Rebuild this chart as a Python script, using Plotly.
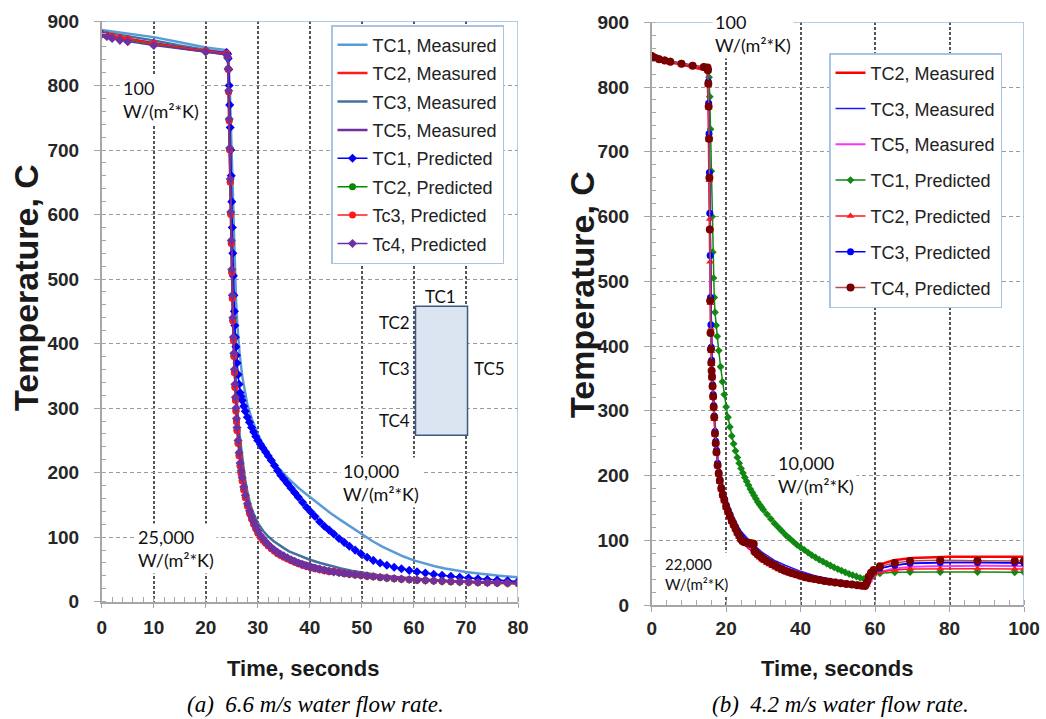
import plotly.graph_objects as go

W, H = 1046, 719

# ---------------- Panel (a): 6.6 m/s water flow rate ----------------
x_ticks_a = [0, 10, 20, 30, 40, 50, 60, 70, 80]
y_ticks = [0, 100, 200, 300, 400, 500, 600, 700, 800, 900]
x_ticks_b = [0, 20, 40, 60, 80, 100]

t_a_meas1 = [0, 5, 10, 15, 20, 24, 24.3, 24.6, 24.9, 25.2,
             25.5, 25.8, 26.1, 26.5, 27, 27.5, 28, 29, 30, 31,
             32, 33, 34, 35, 36, 38, 40, 42, 44, 46,
             48, 50, 52, 54, 56, 58, 60, 62, 64, 66,
             68, 70, 72, 74, 76, 78, 80]
TC1_meas_a = [886, 881, 875, 867, 859, 855, 845, 800, 720, 620,
              530, 470, 425, 385, 350, 325, 305, 280, 260, 244,
              230, 218, 207, 198, 190, 175, 162, 149, 137, 126,
              115, 104, 94, 85, 77, 70, 64, 59, 55, 51.5,
              48.5, 46, 44, 42, 40.5, 39.2, 38]

t_a_meas = [0, 5, 10, 15, 20, 24, 24.3, 24.6, 24.9, 25.2,
            25.5, 25.8, 26.1, 26.5, 27, 27.5, 28, 28.5, 29, 30,
            31, 32, 33, 34, 35, 36, 38, 40, 42, 44,
            46, 48, 50, 53, 56, 60, 64, 68, 72, 76,
            80]
TC2_meas_a = [879, 873, 866, 859, 853, 849, 835, 700, 560, 440,
              365, 315, 275, 238, 200, 172, 150, 134, 122, 105,
              94, 86, 80, 75, 71, 67, 61, 56, 52, 48.5,
              45.5, 43, 41, 38.5, 36.5, 34, 32.2, 30.8, 29.7, 28.9,
              28.3]
TC3_meas_a = [883, 877, 870, 862, 855, 851, 838, 720, 580, 460,
              385, 335, 295, 258, 220, 192, 170, 152, 140, 122,
              110, 101, 94, 88, 83, 78, 71, 65, 60, 55.5,
              51.5, 48, 45, 41.5, 38.5, 35.5, 33.3, 31.7, 30.5, 29.6,
              29]
TC5_meas_a = [878, 872, 865, 858, 852, 848, 834, 705, 565, 445,
              370, 320, 280, 243, 205, 177, 155, 138, 126, 108,
              97, 89, 82, 77, 73, 69, 63, 58, 53.5, 50,
              47, 44, 42, 39.5, 37.5, 35, 33, 31.5, 30.3, 29.4,
              28.8]

t_a_pred = [0, 1, 2, 3.5, 5, 10, 20, 24, 24.2, 24.3,
            24.4, 24.5, 24.6, 24.7, 24.8, 24.9, 25.0, 25.1, 25.2, 25.3,
            25.4, 25.5, 25.6, 25.7, 25.8, 25.9, 26.0, 26.2, 26.4, 26.6,
            26.8, 27.0, 27.3, 27.6, 28.0, 28.4, 28.8, 29.2, 29.6, 30.0,
            30.5, 31.0, 31.5, 32.0, 32.6, 33.2, 33.8, 34.4, 35.0, 35.7,
            36.4, 37.1, 37.8, 38.6, 39.4, 40.2, 41.0, 41.9, 42.8, 43.7,
            44.6, 45.6, 46.6, 47.6, 48.7, 49.8, 51.0, 52.2, 53.5, 54.8,
            56.2, 57.6, 59.1, 60.6, 62.2, 63.8, 65.4, 67.1, 68.8, 70.5,
            72.3, 74.1, 76.0, 78.0, 80.0]
TC1_pred_a = [880, 877, 875, 873, 871, 865, 854, 851, 849, 842,
              825, 800, 770, 735, 700, 660, 620, 580, 540, 505,
              475, 450, 428, 410, 395, 382, 370, 352, 337, 324,
              318, 312, 303, 295, 286, 278, 270, 263, 256, 250,
              244, 238, 232, 226, 219, 211, 203, 196, 190, 183,
              176, 169, 162, 154, 146, 139, 132, 124, 117, 111,
              105, 98, 92, 86, 80, 74.5, 69, 64, 60, 56.5,
              53.5, 51, 48.5, 46.5, 44.5, 42.5, 41, 39.5, 38, 36.8,
              35.5, 34.5, 33.5, 32.5, 31.5]
TC2_pred_a = [880, 877, 875, 873, 871, 864, 853, 849, 845, 826,
              791, 746, 701, 651, 601, 556, 511, 471, 436, 406,
              381, 356, 333, 313, 296, 280, 266, 246, 227, 211,
              199, 188, 174, 162, 149, 138, 129, 121, 114, 107,
              101, 96, 91.5, 87.5, 83, 79, 75.5, 72.5, 70, 67,
              64.5, 62, 59.5, 57, 55, 53, 51.5, 50, 48.5, 47,
              46.5, 45, 43.5, 42.5, 41.5, 40.5, 39.5, 38.5, 37.5, 36.5,
              35.6, 34.8, 34.1, 33.4, 32.8, 32.2, 31.6, 31.1, 30.6, 30.1,
              29.7, 29.3, 29, 28.7, 28.4]
TC3_pred_a = [880, 878, 876, 874, 872, 865, 854, 850, 845, 825,
              790, 745, 700, 650, 600, 555, 510, 470, 435, 405,
              380, 355, 332, 312, 295, 279, 265, 245, 226, 210,
              198, 187, 173, 161, 148, 137, 128, 120, 113, 106,
              100, 95, 90.5, 86.5, 82, 78, 74.5, 71.5, 69, 66,
              63.5, 61, 59, 56.5, 54.5, 52.5, 51, 49.5, 48, 46.5,
              47, 45.5, 44, 43, 42, 41, 40, 39, 38, 37,
              36, 35.2, 34.5, 33.8, 33.1, 32.5, 31.9, 31.3, 30.8, 30.3,
              29.9, 29.5, 29.1, 28.8, 28.5]
TC4_pred_a = [879, 876, 873, 870, 868, 862, 852, 848, 844, 826,
              792, 748, 703, 655, 604, 560, 515, 475, 440, 410,
              385, 360, 337, 317, 300, 284, 270, 250, 231, 215,
              203, 192, 178, 165, 152, 141, 132, 124, 117, 110,
              103, 98, 93, 88.5, 84, 80, 76.5, 73.5, 71, 68,
              65, 62.5, 60, 57.5, 55.5, 53.5, 52, 50.5, 49, 47.5,
              46, 45, 44, 43, 42, 41, 40, 39, 38, 37,
              36, 35.2, 34.5, 33.8, 33.1, 32.5, 31.9, 31.3, 30.8, 30.3,
              29.9, 29.5, 29.1, 28.8, 28.5]

# ---------------- Panel (b): 4.2 m/s water flow rate ----------------
t_b_meas = [0, 5, 10, 14.5, 15, 15.3, 15.6, 15.9, 16.3, 16.8,
            17.5, 18.5, 20, 22, 24, 26, 28, 30, 33, 36,
            40, 44, 48, 52, 55, 57, 58, 59, 60, 62,
            65, 70, 75, 80, 90, 100]
TC2_meas_b = [845, 838, 832, 826, 824, 760, 600, 430, 350, 290,
              235, 190, 150, 118, 100, 88, 80, 72, 63, 56,
              48, 42, 37.5, 33.5, 31, 29.5, 31, 45, 56, 64,
              69, 72.5, 74, 74.5, 74.5, 74.5]
TC3_meas_b = [847, 840, 835, 830, 828, 770, 610, 440, 355, 295,
              240, 195, 157, 130, 114, 101, 90, 80, 69, 61,
              52, 45, 40, 35.5, 32.5, 31, 30.5, 40, 50, 57,
              61.5, 64, 65, 65.5, 65.5, 65]
TC5_meas_b = [846, 839, 834, 829, 827, 765, 605, 435, 352, 292,
              237, 192, 152, 120, 102, 90, 82, 74, 65, 57.5,
              49.5, 43, 38, 34, 31.5, 30, 30, 37, 46, 52,
              56.5, 59, 60, 60.5, 60.5, 60]

t_b_pred1 = [0, 1, 2, 3.5, 5, 8, 11, 14, 15, 15.2,
             15.4, 15.6, 15.8, 16.0, 16.2, 16.4, 16.6, 16.8, 17.0, 17.3,
             17.6, 18.0, 18.5, 19.0, 19.5, 20.0, 20.5, 21.0, 21.5, 22.0,
             22.5, 23.0, 23.5, 24.0, 24.5, 25.0, 25.5, 26.0, 26.5, 27.0,
             27.5, 28.0, 28.5, 29.0, 29.5, 30.0, 31.0, 32.0, 33.0, 34.0,
             35, 36, 37, 38, 39, 40, 41, 42, 43, 44,
             45, 46, 47, 48, 49, 50, 51, 52, 53, 54,
             55, 56, 57, 57.5, 58, 58.8, 59.6, 61.3, 65.3, 69.4,
             77.5, 87.5, 97.5, 100]
TC1_pred_b = [849, 846, 844, 842, 840, 836, 833, 831, 830, 828,
              815, 785, 735, 670, 600, 545, 505, 475, 452, 432,
              415, 393, 368, 345, 325, 306, 290, 275, 261, 249,
              238, 228, 219, 211, 204, 197, 191, 185, 179, 174,
              169, 164, 159, 155, 151, 147, 140, 133, 126, 120,
              114, 108, 103, 98, 93, 89, 85, 81, 77, 73.5,
              70, 67, 64, 61, 58, 55.5, 53, 50.5, 48, 46,
              44, 42, 40.5, 41, 43, 45, 47, 49, 50.5, 51,
              51, 51, 50.5, 50.5]

t_b_pred = [0, 1, 2, 3.5, 5, 8, 11, 14, 15, 15.1,
            15.2, 15.3, 15.4, 15.5, 15.6, 15.7, 15.8, 15.9, 16.0, 16.1,
            16.2, 16.35, 16.5, 16.65, 16.8, 17.0, 17.2, 17.4, 17.7, 18.0,
            18.3, 18.7, 19.1, 19.5, 20.0, 20.5, 21.0, 21.5, 22.0, 22.5,
            23.0, 23.5, 24.0, 24.5, 25.0, 25.5, 26.0, 26.5, 27.0, 27.4,
            27.6, 28.0, 28.5, 29.0, 29.6, 30.2, 30.9, 31.6, 32.4, 33.2,
            34.0, 34.9, 35.8, 36.8, 37.8, 38.9, 40.0, 41.2, 42.4, 43.7,
            45.0, 46.4, 47.8, 49.3, 50.8, 52.3, 53.8, 55.2, 56.4, 57.3,
            57.8, 58.3, 58.9, 59.6, 61.3, 65.3, 69.4, 77.5, 87.5, 97.5,
            100]
TC2_pred_b = [847, 844, 842, 840, 838, 835, 832, 830, 829, 825,
              803, 768, 718, 656, 596, 530, 466, 427, 392, 372,
              350, 336, 320, 303, 287, 263, 248, 234, 214, 201,
              190, 178, 168, 160, 150, 142, 135, 128, 122, 116,
              110, 105, 100, 97, 96, 95.5, 95, 94.5, 94, 93.5,
              81, 79, 76, 73, 70, 67.5, 65, 62.5, 60, 57.5,
              55, 52.5, 50.5, 48.5, 46.5, 44.5, 42.5, 41, 39.5, 38,
              36.5, 35.2, 34, 32.9, 31.9, 31, 30.1, 29.3, 28.7, 28.5,
              31, 38, 43, 47, 51, 54, 55.5, 56, 56, 55.5,
              55.5]
TC3_pred_b = [848, 845, 843, 841, 839, 836, 833, 831, 830, 827,
              808, 775, 728, 668, 605, 540, 475, 433, 398, 378,
              355, 340, 325, 308, 292, 268, 253, 239, 219, 205,
              194, 182, 172, 164, 155, 147, 140, 133, 127, 121,
              115, 110, 105, 101, 98, 96, 95, 94, 93, 92,
              84, 81.5, 78.5, 76, 73.5, 71, 68.5, 66, 63.5, 61,
              58.5, 56, 53.5, 51.5, 49.5, 47.5, 45.5, 43.5, 42, 40.5,
              39, 37.5, 36.2, 35, 33.9, 32.9, 31.9, 31, 30.3, 30,
              34, 42, 48, 52, 57, 61.5, 64.5, 65.5, 65.5, 65,
              65]
TC4_pred_b = [848, 845, 843, 841, 839, 836, 833, 831, 830, 826,
              805, 770, 720, 660, 580, 470, 420, 395, 374, 362,
              352, 338, 322, 306, 290, 265, 250, 236, 216, 203,
              192, 180, 170, 162, 152, 144, 137, 130, 124, 118,
              112, 107, 101, 98, 97, 96.5, 96, 95.5, 95, 94.5,
              83, 81, 78, 76, 73, 70.5, 68, 65.5, 63, 60.5,
              58, 55.5, 53, 51, 49, 47, 45, 43, 41.5, 40,
              38.5, 37, 35.8, 34.6, 33.5, 32.5, 31.5, 30.5, 29.8, 29.5,
              35, 44, 50, 54, 60, 65, 68, 69, 68.5, 68,
              68]

# ---------------- Figure ----------------
SANS = "Liberation Sans, Arial, sans-serif"
CAL = "Lato, Carlito, Calibri, sans-serif"

fig = go.Figure()


def add(x, y, name, leg, xa, ya, color, width, symbol=None, msize=6, mcolor=None):
    kw = {}
    if symbol is None:
        mode = "lines"
    else:
        mode = "lines+markers"
        kw["marker"] = dict(symbol=symbol, size=msize, color=mcolor or color,
                            line=dict(width=0))
    fig.add_trace(go.Scatter(x=x, y=y, name=name, mode=mode, xaxis=xa, yaxis=ya,
                             legend=leg, legendgroup=leg + name,
                             line=dict(color=color, width=width), **kw))


# panel (a)
add(t_a_meas1, TC1_meas_a, "TC1, Measured", "legend", "x", "y", "#5b9bd5", 2.5)
add(t_a_meas, TC2_meas_a, "TC2, Measured", "legend", "x", "y", "#ff1a1a", 2.5)
add(t_a_meas, TC3_meas_a, "TC3, Measured", "legend", "x", "y", "#44709e", 2.5)
add(t_a_meas, TC5_meas_a, "TC5, Measured", "legend", "x", "y", "#7030a0", 2.5)
add(t_a_pred, TC1_pred_a, "TC1, Predicted", "legend", "x", "y", "#0000ff", 1.5, "diamond", 7)
add(t_a_pred, TC2_pred_a, "TC2, Predicted", "legend", "x", "y", "#008a00", 1.5, "circle", 7)
add(t_a_pred, TC3_pred_a, "Tc3, Predicted", "legend", "x", "y", "#ff1a1a", 1.5, "circle", 7)
add(t_a_pred, TC4_pred_a, "Tc4, Predicted", "legend", "x", "y", "#7030a0", 1.5, "diamond", 7)

# panel (b)
add(t_b_meas, TC2_meas_b, "TC2, Measured", "legend2", "x2", "y2", "#ff0000", 2.5)
add(t_b_meas, TC3_meas_b, "TC3, Measured", "legend2", "x2", "y2", "#1a1aff", 1.5)
add(t_b_meas, TC5_meas_b, "TC5, Measured", "legend2", "x2", "y2", "#ff33ff", 2)
add(t_b_pred1, TC1_pred_b, "TC1, Predicted", "legend2", "x2", "y2", "#118811", 1.5, "diamond", 6)
add(t_b_pred, TC2_pred_b, "TC2, Predicted", "legend2", "x2", "y2", "#ff1a1a", 1.5, "triangle-up", 7)
add(t_b_pred, TC3_pred_b, "TC3, Predicted", "legend2", "x2", "y2", "#0000ff", 1.5, "circle", 7)
add(t_b_pred, TC4_pred_b, "TC4, Predicted", "legend2", "x2", "y2", "#b0504f", 1.5, "circle", 8, "#7a0000")

tickfont = dict(family=SANS, size=19, color="#262626", weight="bold")
AXC = "#a6a6a6"


def xaxis(domain, rng, ticks, minor_dt, anchor, standoff):
    return dict(domain=domain, range=rng, tickvals=ticks, anchor=anchor,
                automargin=False,
                showline=True, linecolor=AXC, linewidth=1.5,
                ticks="outside", ticklen=5, tickcolor=AXC, tickwidth=1.2,
                showgrid=True, gridcolor="#555555", griddash="3px,2px", gridwidth=1.5,
                zeroline=False, tickfont=tickfont, ticklabelstandoff=standoff,
                minor=dict(dtick=minor_dt, ticks="inside", ticklen=5,
                           tickcolor=AXC, showgrid=False))


def yaxis(domain, anchor):
    return dict(domain=domain, range=[0, 900], tickvals=y_ticks, anchor=anchor,
                automargin=False,
                showline=True, linecolor=AXC, linewidth=1.5,
                ticks="outside", ticklen=6, tickcolor=AXC, tickwidth=1.2,
                showgrid=True, gridcolor="#9a9a9a", griddash="4px,3px", gridwidth=1.3,
                zeroline=False, tickfont=tickfont, ticklabelstandoff=11,
                minor=dict(dtick=20, ticks="inside", ticklen=5,
                           tickcolor=AXC, showgrid=False))


xa_dom = [101.7 / W, 518 / W]
ya_dom = [(H - 601.7) / H, (H - 21) / H]
xb_dom = [651.7 / W, 1024 / W]
yb_dom = [(H - 605) / H, (H - 22.3) / H]

BORDER = "#9ebbd9"
shapes = [
    dict(type="line", xref="x", yref="y", x0=0, x1=80, y0=900, y1=900,
         line=dict(color=BORDER, width=1.5)),
    dict(type="line", xref="x", yref="y", x0=80, x1=80, y0=0, y1=900,
         line=dict(color=BORDER, width=1.5)),
    dict(type="line", xref="x2", yref="y2", x0=0, x1=100, y0=900, y1=900,
         line=dict(color=BORDER, width=1.5)),
    dict(type="line", xref="x2", yref="y2", x0=100, x1=100, y0=0, y1=900,
         line=dict(color=BORDER, width=1.5)),
    # thermocouple sketch
    dict(type="rect", xref="x", yref="y", x0=60.3, x1=70.3, y0=258, y1=458,
         fillcolor="#dbe4f1", line=dict(color="#3d5a80", width=1.5), layer="above"),
]


def note(text, x, y, xref, yref, size=18, xanchor="left", bg="white"):
    return dict(text=text, x=x, y=y, xref=xref, yref=yref, showarrow=False,
                xanchor=xanchor, yanchor="middle", align="left",
                font=dict(family=CAL, size=size, color="#111111"),
                bgcolor=bg, borderpad=2)


annotations = [
    note("100<br>W/(m²*K)", 3.5, 778, "x", "y"),
    note("10,000<br>W/(m²*K)", 45.8, 185, "x", "y"),
    note("25,000<br>W/(m²*K)", 6.4, 83, "x", "y"),
    note("TC1", 65.2, 473, "x", "y", 17, "center", None),
    note("TC2", 59.9, 433, "x", "y", 17, "right", None),
    note("TC3", 59.9, 362, "x", "y", 17, "right", None),
    note("TC4", 59.9, 281, "x", "y", 17, "right", None),
    note("TC5", 71.0, 362, "x", "y", 17, "left", None),
    note("100<br>W/(m²*K)", 16.2, 882, "x2", "y2"),
    note("10,000<br>W/(m²*K)", 33.1, 202, "x2", "y2"),
    note("22,000<br>W/(m²*K)", 2.8, 48.6, "x2", "y2", 15),
]

title_font = dict(family=SANS, size=34, color="#1a1a1a", weight="bold")
xt_font = dict(family=SANS, size=22, color="#1a1a1a", weight="bold")
cap_font = dict(family="Liberation Serif, Times New Roman, serif", size=23,
                color="#000000", style="italic")


def ptext(text, x, y, font, angle=0):
    return dict(text=text, x=x / W, y=1 - y / H, xref="paper", yref="paper",
                showarrow=False, xanchor="center", yanchor="middle",
                font=font, textangle=angle)


annotations += [
    ptext("Temperature, C", 26, 288, title_font, -90),
    ptext("Temperature, C", 582, 295, title_font, -90),
    ptext("Time, seconds", 303, 668, xt_font),
    ptext("Time, seconds", 837, 668, xt_font),
    ptext("(a)  6.6 m/s water flow rate.", 315, 704, cap_font),
    ptext("(b)  4.2 m/s water flow rate.", 840, 704, cap_font),
]

legend_font = dict(family=SANS, size=18, color="#222222")

fig.update_layout(
    width=W, height=H, autosize=False,
    margin=dict(l=0, r=0, t=0, b=0, pad=0),
    paper_bgcolor="white", plot_bgcolor="white",
    xaxis=xaxis(xa_dom, [0, 80], x_ticks_a, 2, "y", 3),
    yaxis=yaxis(ya_dom, "x"),
    xaxis2=xaxis(xb_dom, [0, 100], x_ticks_b, 4, "y2", 0),
    yaxis2=yaxis(yb_dom, "x2"),
    shapes=shapes,
    annotations=annotations,
    legend=dict(x=331 / W, y=1 - 25 / H, xanchor="left", yanchor="top",
                bgcolor="white", bordercolor="#a9c4e2", borderwidth=1.5,
                font=legend_font, traceorder="grouped", tracegroupgap=2),
    legend2=dict(x=829 / W, y=1 - 53 / H, xanchor="left", yanchor="top",
                 bgcolor="white", bordercolor="#a9c4e2", borderwidth=1.5,
                 font=legend_font, traceorder="grouped", tracegroupgap=9.4),
    showlegend=True,
)

fig.write_html(
    "out.html",
    config={"displayModeBar": False},
    post_script="document.body.style.margin='0';document.body.style.overflow='hidden';",
)
